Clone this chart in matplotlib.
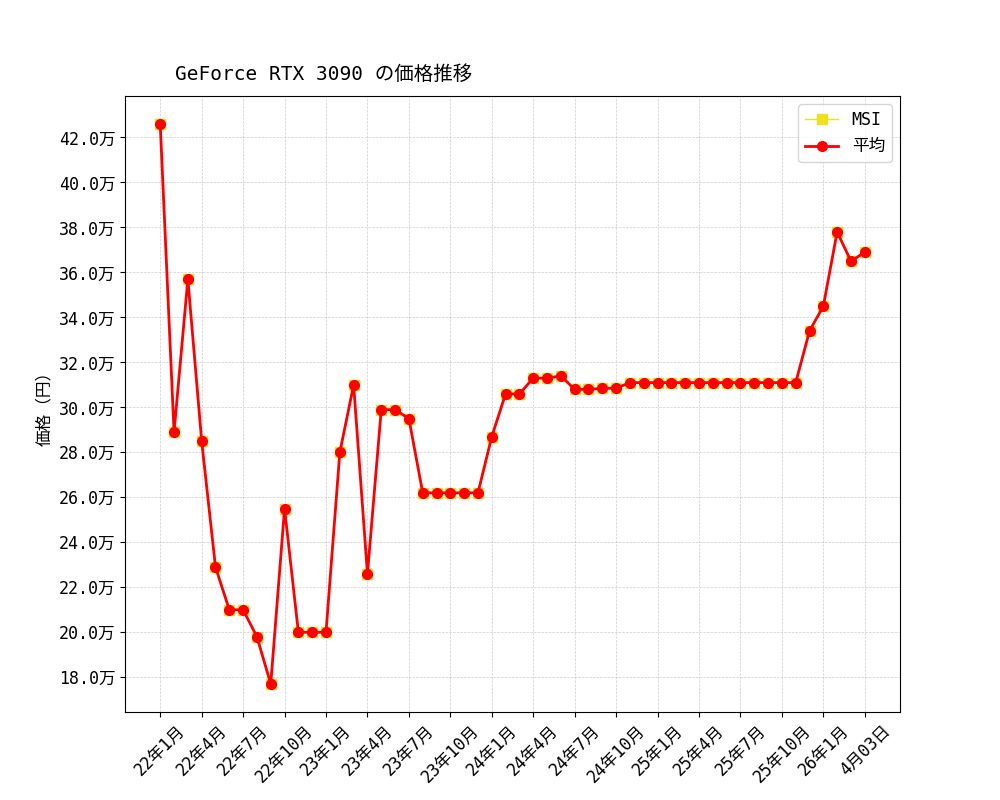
import matplotlib
matplotlib.use("Agg")
import matplotlib.pyplot as plt
from matplotlib.ticker import FuncFormatter

plt.rcParams['font.family'] = ['DejaVu Sans Mono', 'Noto Sans CJK JP']

prices = [42.6, 28.9, 35.7, 28.5, 22.9, 21.0, 21.0, 19.8, 17.7, 25.5,
          20.0, 20.0, 20.0, 28.0, 31.0, 22.6, 29.9, 29.9, 29.5, 26.2,
          26.2, 26.2, 26.2, 26.2, 28.7, 30.6, 30.6, 31.3, 31.3, 31.4,
          30.8, 30.8, 30.85, 30.85, 31.1, 31.1, 31.1, 31.1, 31.1, 31.1,
          31.1, 31.1, 31.1, 31.1, 31.1, 31.1, 31.1, 33.4, 34.5, 37.8,
          36.5, 36.9]
msi = list(prices)
tick_labels = ['22年1月', '22年4月', '22年7月', '22年10月', '23年1月', '23年4月',
               '23年7月', '23年10月', '24年1月', '24年4月', '24年7月', '24年10月',
               '25年1月', '25年4月', '25年7月', '25年10月', '26年1月', '4月03日']
tick_pos = list(range(0, 49, 3)) + [51]

x = list(range(len(prices)))
fig, ax = plt.subplots(figsize=(10, 8), dpi=100)
fig.subplots_adjust(left=0.125, right=0.9, top=0.88, bottom=0.11)
ax.plot(x, [v * 1e4 for v in msi], color='#f0e020', marker='s', markersize=7,
        linewidth=1, label='MSI')
ax.plot(x, [v * 1e4 for v in prices], color='red', marker='o', markersize=7,
        linewidth=2, label='平均')
ax.set_xticks(tick_pos)
ax.set_xticklabels(tick_labels, rotation=45, fontsize=12)
ax.yaxis.set_major_formatter(FuncFormatter(lambda v, p: f'{v/1e4:.1f}万'))
ax.set_yticks([v * 1e4 for v in range(18, 43, 2)])
ax.tick_params(axis='y', labelsize=12)
ax.set_ylabel('価格（円）', fontsize=12)
ax.grid(True, linestyle='--', linewidth=0.5, alpha=0.6)
ax.text(0.065, 1.02, 'GeForce RTX 3090 の価格推移', transform=ax.transAxes,
        fontsize=14, ha='left', va='bottom')
ax.legend(loc='upper right', fontsize=12)
fig.savefig('out.png')
